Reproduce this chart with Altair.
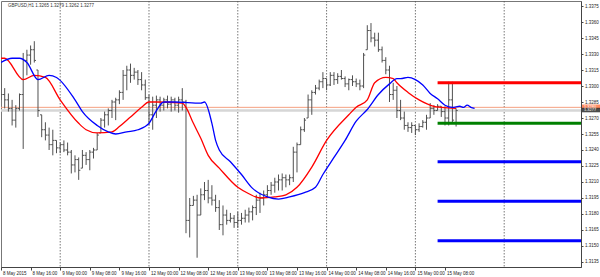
import altair as alt
import pandas as pd

FONT = "Liberation Sans"

# ---- OHLC bars (GBPUSD H1), index 0 = 8 May 08:00 ----
highs = [1.3324, 1.3298, 1.3293, 1.3287, 1.3282, 1.3293, 1.3331, 1.3334, 1.3338, 1.3342,
         1.3315, 1.3273, 1.3266, 1.3261, 1.3259, 1.3249, 1.3247, 1.3249, 1.3247, 1.3240,
         1.3235, 1.3233, 1.3240, 1.3238, 1.3240, 1.3242, 1.3256, 1.3270, 1.3276, 1.3279,
         1.3287, 1.3289, 1.3296, 1.3315, 1.3319, 1.3321, 1.3317, 1.3315, 1.3313, 1.3306,
         1.3292, 1.3290, 1.3291, 1.3290, 1.3289, 1.3291, 1.3290, 1.3289, 1.3290, 1.3298,
         1.3287, 1.3195, 1.3197, 1.3198, 1.3204, 1.3210, 1.3212, 1.3207, 1.3198, 1.3193,
         1.3188, 1.3184, 1.3181, 1.3179, 1.3182, 1.3181, 1.3184, 1.3186, 1.3188, 1.3198,
         1.3200, 1.3202, 1.3207, 1.3210, 1.3214, 1.3217, 1.3218, 1.3217, 1.3217, 1.3243,
         1.3247, 1.3262, 1.3270, 1.3292, 1.3296, 1.3301, 1.3306, 1.3313, 1.3307, 1.3313,
         1.3313, 1.3312, 1.3315, 1.3309, 1.3307, 1.3310, 1.3307, 1.3306, 1.3331, 1.3357,
         1.3359, 1.3350, 1.3350, 1.3337, 1.3327, 1.3319, 1.3303, 1.3300, 1.3287, 1.3276,
         1.3266, 1.3266, 1.3263, 1.3265, 1.3268, 1.3273, 1.3284, 1.3282, 1.3283, 1.3281,
         1.3281, 1.3304, 1.3304, 1.3279]
lows = [1.3287, 1.3279, 1.3276, 1.3263, 1.3261, 1.3277, 1.3241, 1.3310, 1.3320, 1.3322,
        1.3271, 1.3252, 1.3249, 1.3240, 1.3235, 1.3237, 1.3237, 1.3238, 1.3235, 1.3218,
        1.3219, 1.3212, 1.3223, 1.3226, 1.3221, 1.3232, 1.3240, 1.3256, 1.3261, 1.3263,
        1.3270, 1.3268, 1.3283, 1.3287, 1.3296, 1.3303, 1.3306, 1.3301, 1.3296, 1.3287,
        1.3263, 1.3259, 1.3270, 1.3276, 1.3277, 1.3279, 1.3276, 1.3277, 1.3275, 1.3277,
        1.3162, 1.3158, 1.3188, 1.3139, 1.3179, 1.3193, 1.3190, 1.3188, 1.3182, 1.3165,
        1.3160, 1.3170, 1.3172, 1.3167, 1.3167, 1.3170, 1.3172, 1.3172, 1.3174, 1.3179,
        1.3181, 1.3188, 1.3196, 1.3198, 1.3200, 1.3202, 1.3202, 1.3205, 1.3207, 1.3210,
        1.3219, 1.3245, 1.3257, 1.3270, 1.3273, 1.3292, 1.3296, 1.3298, 1.3296, 1.3300,
        1.3301, 1.3302, 1.3306, 1.3299, 1.3296, 1.3300, 1.3299, 1.3296, 1.3298, 1.3334,
        1.3341, 1.3337, 1.3332, 1.3322, 1.3311, 1.3285, 1.3287, 1.3270, 1.3268, 1.3259,
        1.3257, 1.3256, 1.3254, 1.3257, 1.3261, 1.3259, 1.3270, 1.3273, 1.3277, 1.3271,
        1.3263, 1.3263, 1.3266, 1.3262]
opens = [1.3315, 1.3292, 1.3287, 1.3279, 1.3268, 1.3279, 1.3292, 1.3324, 1.3329, 1.3334,
         1.3315, 1.3273, 1.3259, 1.3254, 1.3245, 1.3249, 1.3242, 1.3245, 1.3240, 1.3238,
         1.3226, 1.3231, 1.3223, 1.3235, 1.3231, 1.3238, 1.3240, 1.3256, 1.3268, 1.3273,
         1.3277, 1.3285, 1.3287, 1.3294, 1.3310, 1.3315, 1.3310, 1.3313, 1.3306, 1.3301,
         1.3289, 1.3273, 1.3282, 1.3287, 1.3282, 1.3287, 1.3283, 1.3287, 1.3282, 1.3287,
         1.3285, 1.3174, 1.3188, 1.3193, 1.3179, 1.3198, 1.3202, 1.3195, 1.3193, 1.3186,
         1.3170, 1.3179, 1.3174, 1.3176, 1.3172, 1.3174, 1.3176, 1.3179, 1.3182, 1.3186,
         1.3193, 1.3195, 1.3198, 1.3202, 1.3207, 1.3210, 1.3212, 1.3214, 1.3212, 1.3214,
         1.3238, 1.3245, 1.3259, 1.3270, 1.3287, 1.3294, 1.3298, 1.3304, 1.3307, 1.3301,
         1.3310, 1.3306, 1.3309, 1.3307, 1.3302, 1.3306, 1.3304, 1.3302, 1.3300, 1.3334,
         1.3352, 1.3345, 1.3343, 1.3334, 1.3324, 1.3315, 1.3292, 1.3296, 1.3277, 1.3270,
         1.3263, 1.3261, 1.3263, 1.3259, 1.3262, 1.3266, 1.3270, 1.3279, 1.3277, 1.3281,
         1.3276, 1.3270, 1.3287, 1.3265]
closes = [1.3292, 1.3287, 1.3279, 1.3268, 1.3279, 1.3292, 1.3324, 1.3329, 1.3334, 1.3324,
          1.3277, 1.3259, 1.3254, 1.3245, 1.3249, 1.3242, 1.3245, 1.3240, 1.3238, 1.3226,
          1.3231, 1.3221, 1.3235, 1.3231, 1.3238, 1.3240, 1.3254, 1.3268, 1.3273, 1.3277,
          1.3285, 1.3287, 1.3294, 1.3310, 1.3315, 1.3310, 1.3313, 1.3306, 1.3301, 1.3289,
          1.3273, 1.3282, 1.3287, 1.3282, 1.3287, 1.3283, 1.3287, 1.3282, 1.3287, 1.3285,
          1.3174, 1.3188, 1.3193, 1.3179, 1.3198, 1.3202, 1.3195, 1.3193, 1.3186, 1.3170,
          1.3179, 1.3174, 1.3176, 1.3172, 1.3174, 1.3176, 1.3179, 1.3182, 1.3186, 1.3193,
          1.3195, 1.3198, 1.3202, 1.3207, 1.3210, 1.3212, 1.3214, 1.3212, 1.3214, 1.3238,
          1.3245, 1.3259, 1.3268, 1.3287, 1.3294, 1.3298, 1.3304, 1.3307, 1.3301, 1.3310,
          1.3306, 1.3309, 1.3307, 1.3302, 1.3306, 1.3304, 1.3302, 1.3300, 1.3329, 1.3352,
          1.3345, 1.3343, 1.3334, 1.3324, 1.3315, 1.3292, 1.3296, 1.3277, 1.3270, 1.3263,
          1.3261, 1.3263, 1.3259, 1.3262, 1.3266, 1.3270, 1.3279, 1.3277, 1.3281, 1.3276,
          1.3270, 1.3287, 1.3268, 1.3277]

# ---- moving averages (read at selected bars) ----
red_idx = [0, 1, 6, 9, 12, 16, 21, 23, 26, 30, 32, 35, 38, 40, 42, 49, 50, 52, 54, 56,
           59, 64, 67, 70, 74, 77, 80, 84, 88, 94, 96, 99, 101, 104, 106, 107, 110, 113, 117, 119, 123]
red_val = [1.3326, 1.3326, 1.3306, 1.3310, 1.3308, 1.3287, 1.3265, 1.3259, 1.3256, 1.3257,
           1.3262, 1.3271, 1.3280, 1.3285, 1.3285, 1.3284, 1.3280, 1.3265, 1.3251, 1.3235,
           1.3223, 1.3205, 1.3199, 1.3195, 1.3196, 1.3198, 1.3205, 1.3224, 1.3249, 1.3273,
           1.3280, 1.3287, 1.3303, 1.3308, 1.3307, 1.3303, 1.3294, 1.3287, 1.3281, 1.3280, 1.3279]
blue_idx = [0, 3, 5, 7, 10, 13, 15, 20, 22, 26, 29, 31, 34, 37, 40, 42, 44, 47, 54, 55,
            57, 58, 59, 62, 65, 68, 72, 75, 78, 82, 85, 87, 90, 93, 96, 99, 102, 105, 107, 108,
            110, 112, 114, 116, 118, 120, 122, 124, 125, 126, 127, 128]
blue_val = [1.3322, 1.3326, 1.3326, 1.3322, 1.3306, 1.3310, 1.3308, 1.3287, 1.3276, 1.3263,
            1.3257, 1.3255, 1.3257, 1.3259, 1.3265, 1.3277, 1.3285, 1.3285, 1.3284, 1.3285,
            1.3265, 1.3249, 1.3240, 1.3229, 1.3217, 1.3204, 1.3196, 1.3194, 1.3196, 1.3200,
            1.3205, 1.3217, 1.3233, 1.3249, 1.3267, 1.3278, 1.3292, 1.3302, 1.3307, 1.3307,
            1.3308, 1.3306, 1.3301, 1.3293, 1.3288, 1.3282, 1.3280, 1.3281, 1.3280, 1.3282,
            1.3280, 1.3279]

# ---- horizontal levels ----
level_prices = [1.3303, 1.3265, 1.3229, 1.3192, 1.3155]
level_colors = ["#ff0000", "#008000", "#0000ff", "#0000ff", "#0000ff"]
level_start = 118
level_end = 160

separator_idx = [16, 40, 64, 88, 112, 136]

x_tick_idx = [0, 8, 16, 24, 32, 40, 48, 56, 64, 72, 80, 88, 96, 104, 112, 120]
x_tick_labels = ["8 May 2015", "8 May 16:00", "9 May 00:00", "9 May 08:00", "9 May 16:00",
                 "12 May 00:00", "12 May 08:00", "12 May 16:00", "13 May 00:00", "13 May 08:00",
                 "13 May 16:00", "14 May 00:00", "14 May 08:00", "14 May 16:00", "15 May 00:00",
                 "15 May 08:00"]
y_ticks = [1.3135, 1.3150, 1.3165, 1.3180, 1.3195, 1.3210, 1.3225, 1.3240, 1.3255,
           1.3270, 1.3285, 1.3300, 1.3315, 1.3330, 1.3345, 1.3360, 1.3375]

bid = 1.3277
ask = 1.3280
title_text = "GBPUSD,H1  1.3265 1.3279 1.3262 1.3277"

X_DOMAIN = [0, 156.76]
Y_DOMAIN = [1.31303, 1.33797]

# ---- frames ----
bars = pd.DataFrame({"i": list(range(len(highs))), "o": opens, "h": highs, "l": lows, "c": closes})
red_df = pd.DataFrame({"i": red_idx, "v": red_val})
blue_df = pd.DataFrame({"i": blue_idx, "v": blue_val})
levels_df = pd.DataFrame({"p": level_prices, "col": level_colors,
                          "s": [level_start] * len(level_prices), "e": [level_end] * len(level_prices)})
sep_df = pd.DataFrame({"i": separator_idx})
ask_df = pd.DataFrame({"p": [ask], "label": [f"{ask:.4f}"]})
bid_df = pd.DataFrame({"p": [bid], "label": [f"{bid:.4f}"]})

xs = alt.Scale(domain=X_DOMAIN, nice=False, zero=False)
ys = alt.Scale(domain=Y_DOMAIN, nice=False, zero=False)

label_expr = "[" + ",".join(f"'{s}'" for s in x_tick_labels) + "][round(datum.value/8)]"

x_axis = alt.Axis(values=x_tick_idx, labelExpr=label_expr, grid=False, domainColor="#444",
                  tickColor="#444", tickSize=3, labelFont=FONT, labelFontSize=4.5, labelColor="#222",
                  labelAlign="left", labelBaseline="top", labelPadding=0, labelOffset=1.5,
                  labelOverlap=False, labelFlush=False, title=None)
y_axis = alt.Axis(orient="right", values=y_ticks, format=".4f", grid=False, domainColor="#444",
                  tickColor="#444", tickSize=2, labelFont=FONT, labelFontSize=4.5, labelColor="#222",
                  labelPadding=1.5, labelOverlap=False, labelFlush=False, title=None)


def X(field):
    return alt.X(f"{field}:Q", scale=xs, axis=x_axis, title=None)


def Y(field):
    return alt.Y(f"{field}:Q", scale=ys, axis=y_axis, title=None)


BAR_COLOR = "#505050"

seps = alt.Chart(sep_df).mark_rule(color="#555", strokeDash=[1.5, 1.5], strokeWidth=0.8).encode(x=X("i"))

bid_line = alt.Chart(bid_df).mark_rule(color="#d6d6d6", strokeWidth=2.5).encode(y=Y("p"))
ask_line = alt.Chart(ask_df).mark_rule(color="#f5a080", strokeWidth=1).encode(y=Y("p"))

bar_hl = alt.Chart(bars).mark_rule(color=BAR_COLOR, strokeWidth=1, clip=True).encode(
    x=X("i"), y=Y("l"), y2="h")
bar_o = alt.Chart(bars).transform_calculate(xa="datum.i - 0.45").mark_rule(
    color=BAR_COLOR, strokeWidth=1, clip=True).encode(x=X("xa"), x2="i", y=Y("o"))
bar_c = alt.Chart(bars).transform_calculate(xb="datum.i + 0.45").mark_rule(
    color=BAR_COLOR, strokeWidth=1, clip=True).encode(x=X("i"), x2="xb", y=Y("c"))

red_line = alt.Chart(red_df).mark_line(color="#ff0000", strokeWidth=1.3, interpolate="monotone",
                                       clip=True).encode(x=X("i"), y=Y("v"))
blue_line = alt.Chart(blue_df).mark_line(color="#0000ff", strokeWidth=1.3, interpolate="monotone",
                                         clip=True).encode(x=X("i"), y=Y("v"))

levels = alt.Chart(levels_df).mark_rule(strokeWidth=3, clip=True).encode(
    x=X("s"), x2="e", y=Y("p"), color=alt.Color("col:N", scale=None))

ask_tag = alt.Chart(ask_df).mark_tick(orient="horizontal", thickness=4, size=18, color="#ff5a1f",
                                      yOffset=-0.8).encode(x=alt.value(590), y=Y("p"))
ask_txt = alt.Chart(ask_df).mark_text(align="left", baseline="middle", fontSize=4, font=FONT,
                                      color="white", yOffset=-0.8).encode(
    x=alt.value(583), y=Y("p"), text="label:N")
bid_tag = alt.Chart(bid_df).mark_tick(orient="horizontal", thickness=4.5, size=18, color="#000000",
                                      yOffset=-0.5).encode(x=alt.value(590), y=Y("p"))
bid_txt = alt.Chart(bid_df).mark_text(align="left", baseline="middle", fontSize=4, font=FONT,
                                      color="white", yOffset=-0.5).encode(
    x=alt.value(583), y=Y("p"), text="label:N")

chart = alt.layer(
    seps, bid_line, ask_line, bar_hl, bar_o, bar_c, red_line, blue_line, levels,
    ask_tag, ask_txt, bid_tag, bid_txt
).properties(
    width=580, height=266,
    padding={"left": 1, "top": 1, "right": 19, "bottom": 10},
    autosize=alt.AutoSizeParams(type="none"),
    background="white",
    title=alt.TitleParams(text=title_text, anchor="start", frame="group", orient="top", offset=0,
                          baseline="top", dx=7, dy=7, fontSize=4.5, font=FONT, fontWeight="normal",
                          color="#333"),
).configure_view(stroke="#777", strokeWidth=1)

chart.save("out.html", embed_options={"renderer": "svg", "actions": False})
